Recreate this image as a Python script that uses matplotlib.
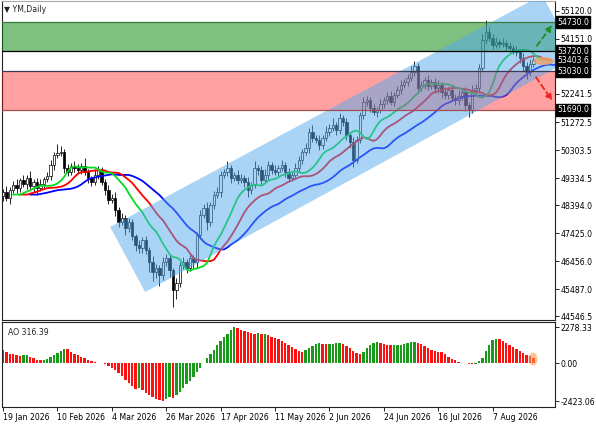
import numpy as np
import pandas as pd
import matplotlib
matplotlib.use('Agg')
import matplotlib.pyplot as plt
from matplotlib.patches import Polygon, Ellipse

# daily YM candles, 19 Jan 2026 .. 25 Aug 2026
opens = [
    48700, 48851, 48643, 48920, 49093, 48989, 49266, 49127, 49335, 49058,
    49197, 48989, 49127, 49300, 49404, 49785, 50131, 50200, 50235, 49681,
    49543, 49750, 49681, 49612, 49750, 49543, 49335, 49197, 49439, 49612,
    49197, 48920, 48574, 48643, 48228, 47813, 47951, 47605, 47813, 47328,
    47017, 46913, 47190, 46844, 46429, 46083, 46221, 45979, 46429, 46567,
    46152, 45460, 45702, 46325, 46429, 46221, 46567, 46429, 47363, 48055,
    48297, 47813, 48401, 48747, 48851, 49439, 49543, 49681, 49335, 49439,
    49266, 49335, 49197, 48920, 49093, 49681, 49612, 49266, 49439, 49785,
    49612, 49543, 49681, 49785, 49543, 49335, 49439, 49681, 49958, 50235,
    50373, 50927, 50719, 50650, 50477, 50719, 50927, 51065, 51169, 50996,
    51411, 51273, 50823, 50581, 49958, 50650, 51515, 51965, 52034, 51757,
    51619, 51688, 51895, 52034, 52172, 51965, 52207, 52380, 52553, 52657,
    52795, 53003, 53210, 52449, 52553, 52726, 52518, 52657, 52449, 52553,
    52311, 52207, 52380, 52103, 52034, 52172, 52311, 51861, 51688, 52380,
    52449, 53141, 54110, 54387, 54179, 53937, 54041, 53971, 54006, 53902,
    53833, 53764, 53695, 53487, 53210, 53003, 53279]
closes = [
    48851, 48643, 48920, 49093, 48989, 49266, 49127, 49335, 49058, 49197,
    48989, 49127, 49300, 49404, 49785, 50131, 50200, 50235, 49681, 49543,
    49750, 49681, 49612, 49750, 49543, 49335, 49197, 49439, 49612, 49197,
    48920, 48574, 48643, 48228, 47813, 47951, 47605, 47813, 47328, 47017,
    46913, 47190, 46844, 46429, 46083, 46221, 45979, 46429, 46567, 46152,
    45460, 45702, 46325, 46429, 46221, 46567, 46429, 47363, 48055, 48297,
    47813, 48401, 48747, 48851, 49439, 49543, 49681, 49335, 49439, 49266,
    49335, 49197, 48920, 49093, 49681, 49612, 49266, 49439, 49785, 49612,
    49543, 49681, 49785, 49543, 49335, 49439, 49681, 49958, 50235, 50373,
    50927, 50719, 50650, 50477, 50719, 50927, 51065, 51169, 50996, 51411,
    51273, 50823, 50581, 49958, 50650, 51515, 51965, 52034, 51757, 51619,
    51688, 51895, 52034, 52172, 51965, 52207, 52380, 52553, 52657, 52795,
    53003, 53210, 52449, 52553, 52726, 52518, 52657, 52449, 52553, 52311,
    52207, 52380, 52103, 52034, 52172, 52311, 51861, 51688, 52380, 52449,
    53141, 54110, 54387, 54179, 53937, 54041, 53971, 54006, 53902, 53833,
    53764, 53695, 53487, 53210, 53003, 53279, 53403.6]
# wick sizes above / below the body, in points
hi_wick = [
    120, 200, 90, 150, 220, 80, 160, 110, 250, 90,
    140, 180, 70, 130, 160, 90, 300, 210, 120, 150,
    100, 180, 140, 90, 260, 120, 80, 200, 150, 110,
    90, 170, 130, 220, 100, 160, 90, 140, 120, 80,
    180, 110, 150, 90, 200, 130, 100, 170, 140, 120,
    80, 160, 110, 190, 90, 150, 120, 100, 180, 140,
    210, 90, 130, 170, 150, 110, 250, 120, 90, 160,
    140, 100, 180, 120, 230, 90, 150, 200, 130, 110,
    160, 120, 180, 90, 140, 110, 170, 150, 120, 190,
    130, 240, 100, 160, 120, 200, 140, 230, 110, 180,
    120, 150, 90, 170, 140, 110, 160, 130, 100, 150,
    120, 190, 110, 140, 160, 100, 130, 180, 120, 150,
    210, 160, 110, 150, 120, 180, 100, 140, 160, 120,
    170, 110, 150, 130, 200, 120, 180, 110, 160, 130,
    150, 220, 415, 180, 140, 160, 120, 180, 100, 140,
    120, 150, 110, 170, 130, 160, 120]
lo_wick = [
    150, 120, 200, 90, 160, 130, 100, 180, 120, 200,
    250, 110, 140, 90, 130, 160, 120, 100, 180, 140,
    110, 150, 90, 130, 120, 170, 140, 100, 150, 120,
    180, 140, 110, 200, 160, 120, 230, 150, 130, 210,
    160, 190, 140, 350, 300, 200, 380, 160, 140, 250,
    590, 300, 150, 130, 180, 120, 200, 170, 140, 110,
    260, 130, 150, 120, 180, 100, 140, 160, 110, 150,
    120, 170, 240, 130, 110, 160, 140, 120, 150, 130,
    110, 150, 120, 160, 140, 120, 100, 130, 150, 110,
    160, 140, 120, 170, 150, 110, 130, 120, 160, 140,
    150, 170, 200, 240, 120, 110, 140, 130, 150, 120,
    160, 110, 130, 140, 120, 150, 110, 130, 120, 140,
    110, 130, 160, 120, 140, 150, 110, 160, 170, 200,
    150, 130, 120, 180, 160, 140, 200, 240, 110, 130,
    120, 100, 130, 120, 150, 110, 140, 120, 160, 130,
    150, 140, 160, 180, 230, 140, 120]

# Awesome Oscillator
ao = [
    830, 690, 600, 540, 490, 450, 480, 500, 380, 290,
    220, 190, 210, 270, 370, 500, 630, 760, 880, 860,
    720, 580, 480, 390, 300, 220, 150, 80, 20, -30,
    -90, -170, -290, -450, -630, -840, -1060, -1250, -1430, -1620,
    -1580, -1720, -1880, -2030, -2180, -2280, -2370, -2423.06, -2300, -2160,
    -2220, -2040, -1820, -1600, -1360, -1110, -860, -600, -320, 30,
    300, 570, 840, 1110, 1380, 1620, 1870, 2080, 2278.33, 2190,
    2120, 2040, 1960, 1900, 1850, 1890, 1820, 1840, 1770, 1680,
    1600, 1510, 1410, 1300, 1160, 1030, 870, 730, 690, 800,
    950, 1100, 1220, 1280, 1230, 1190, 1220, 1230, 1240, 1250,
    1210, 1080, 920, 760, 630, 560, 720, 920, 1120, 1280,
    1340, 1280, 1180, 1120, 1110, 1120, 1130, 1150, 1210, 1280,
    1320, 1360, 1290, 1230, 1050, 940, 840, 780, 720, 670,
    540, 380, 270, 160, 70, 30, 10, -40, -70, -40,
    110, 340, 730, 1120, 1430, 1520, 1500, 1400, 1250, 1140,
    1030, 900, 780, 650, 520, 420, 316.39]

date_labels = ['19 Jan 2026', '10 Feb 2026', '4 Mar 2026', '26 Mar 2026', '17 Apr 2026',
               '11 May 2026', '2 Jun 2026', '24 Jun 2026', '16 Jul 2026', '7 Aug 2026']
price_ticks = [55120.0, 54151.0, 52241.5, 51272.5, 50303.5, 49334.5,
               48394.0, 47425.0, 46456.0, 45487.0, 44546.5]
box_levels = [54730.0, 53720.0, 53403.6, 53030.0, 51690.0]
green_zone = (53720.0, 54730.0)
red_zone = (51690.0, 53030.0)

o = np.array(opens, float)
c = np.array(closes, float)
h = np.maximum(o, c) + np.array(hi_wick)
l = np.minimum(o, c) - np.array(lo_wick)
x = np.arange(len(c))

plt.rcParams['font.family'] = 'DejaVu Sans'
fs = 5.6

fig = plt.figure(figsize=(5.96, 4.25), dpi=100)
ax = fig.add_axes([2/596, 1 - 320/425, 553/596, 319/425])
ax2 = fig.add_axes([2/596, 1 - 407/425, 553/596, 85/425])

xmax = 162.35
ax.set_xlim(-0.3, xmax)
ax.set_ylim(44422, 55459)

# candles
up = c >= o
ax.vlines(x, l, h, color='black', lw=0.6, zorder=2)
ax.bar(x[up], (c - o)[up], bottom=o[up], width=0.7, color='white',
       edgecolor='black', lw=0.5, zorder=3)
ax.bar(x[~up], (o - c)[~up], bottom=c[~up], width=0.7, color='black',
       edgecolor='black', lw=0.5, zorder=3)

# alligator (smoothed MA of median price, shifted forward)
med = pd.Series((h + l) / 2)
for n, shift, col in [(13, 8, '#0000ff'), (8, 5, '#ff0000'), (5, 3, '#00dd22')]:
    smma = med.ewm(alpha=1.0 / n, adjust=False).mean()
    ax.plot(x + shift, smma.values, color=col, lw=1.3, zorder=4)

# zones
ax.axhspan(*green_zone, color='green', alpha=0.5, lw=0, zorder=5)
ax.axhspan(*red_zone, color='red', alpha=0.37, lw=0, zorder=5)
ax.axhline(green_zone[1], color='#3b7a3b', lw=0.9, zorder=6)
ax.axhline(green_zone[0], color='black', lw=0.9, zorder=6)
ax.axhline(red_zone[1], color='#3a3a55', lw=0.9, zorder=6)
ax.axhline(red_zone[0], color='#a05050', lw=0.9, zorder=6)

# trend channel
chan = Polygon([(31.5, 47640), (41.8, 45390), (168.5, 53520), (158.5, 55667)],
               closed=True, fc='#55aaee', alpha=0.5, lw=0, zorder=5)
ax.add_patch(chan)

# scenario arrows
ax.annotate('', xy=(162.0, 54700), xytext=(156.5, 53833), annotation_clip=False,
            arrowprops=dict(arrowstyle='-|>', linestyle=(0, (3, 2)), color='#1f8f2a',
                            lw=1.3, mutation_scale=9), zorder=7)
ax.annotate('', xy=(162.0, 51930), xytext=(156.3, 52899), annotation_clip=False,
            arrowprops=dict(arrowstyle='-|>', linestyle=(0, (3, 2)), color='#f02020',
                            lw=1.3, mutation_scale=9), zorder=7)
ax.add_patch(Ellipse((159.0, 53383), 6.0, 280, fc='#f0a060', alpha=0.8, lw=0, zorder=7))

# axis styling
ax.set_xticks([])
ax.yaxis.tick_right()
ax.set_yticks(price_ticks)
ax.set_yticklabels([f'{v:.1f}' for v in price_ticks], fontsize=fs)
ax.tick_params(axis='y', length=3, pad=1, width=0.6)
for s in ax.spines.values():
    s.set_color('#222222')
    s.set_linewidth(0.8)
ax.spines['top'].set_color('#aaaaaa')

tr = ax.get_yaxis_transform()
for v in box_levels:
    ax.text(1.004, v, f'{v:.1f}', transform=tr, ha='left', va='center', color='white',
            fontsize=fs, zorder=10, clip_on=False,
            bbox=dict(boxstyle='square,pad=0.18', fc='black', ec='black'))

ax.text(0.004, 0.988, '\u25bc YM,Daily', transform=ax.transAxes, ha='left', va='top',
        fontsize=fs, color='#222222')

# AO panel
ao = np.array(ao)
ao_col = ['#ff1010' if i == 0 or ao[i] <= ao[i - 1] else '#1a9a1a' for i in range(len(ao))]
ax2.bar(x, ao, width=0.7, color=ao_col, lw=0, zorder=2)
ax2.add_patch(Ellipse((155.9, 250), 2.6, 820, fc='#f5a050', alpha=0.6, lw=0, zorder=3))
ax2.set_xlim(-0.3, xmax)
ax2.set_ylim(-2790, 2600)
ax2.yaxis.tick_right()
ax2.set_yticks([2278.33, 0.0, -2423.06])
ax2.set_yticklabels(['2278.33', '0.00', '-2423.06'], fontsize=fs)
ax2.tick_params(axis='y', length=3, pad=1, width=0.6)
ax2.set_xticks(np.arange(len(date_labels)) * 16)
ax2.set_xticklabels(date_labels, fontsize=fs, ha='left')
ax2.tick_params(axis='x', length=3, pad=1, width=0.6)
for s in ax2.spines.values():
    s.set_color('#222222')
    s.set_linewidth(0.8)
ax2.text(0.01, 0.93, 'AO 316.39', transform=ax2.transAxes, ha='left', va='top',
         fontsize=fs, color='#222222')

fig.savefig('out.png', dpi=100)
